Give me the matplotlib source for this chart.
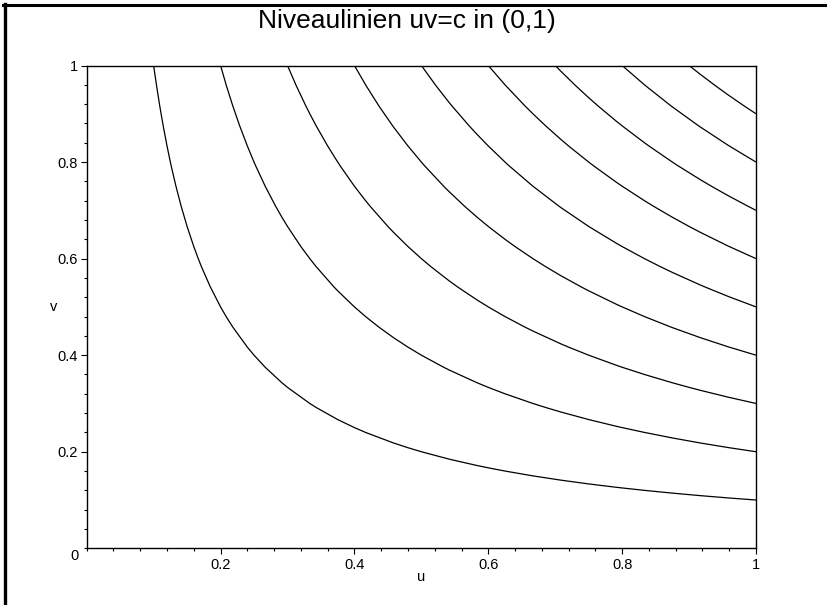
import numpy as np
import matplotlib
matplotlib.use("Agg")
import matplotlib.pyplot as plt
from matplotlib.lines import Line2D
from matplotlib.ticker import MultipleLocator

# Level values c for the curves u*v = c
levels = [0.1, 0.2, 0.3, 0.4, 0.5, 0.6, 0.7, 0.8, 0.9]
major_ticks = [0.2, 0.4, 0.6, 0.8, 1.0]
tick_labels = ["0.2", "0.4", "0.6", "0.8", "1"]
title = "Niveaulinien uv=c in (0,1)"

W, H = 828, 605
fig = plt.figure(figsize=(W / 100, H / 100), dpi=100)
plt.rcParams["font.family"] = ["Liberation Sans", "DejaVu Sans"]

ax = fig.add_axes([86.7 / W, 1 - 548.3 / H, (756 - 86.7) / W, (548.3 - 65.5) / H])

# sampling grid for the contour computation
u = np.linspace(0, 1, 25)
v = np.linspace(0, 1, 25)
U, V = np.meshgrid(u, v)
ax.contour(U, V, U * V, levels=levels, colors="black", linewidths=0.9)

ax.set_xlim(0, 1)
ax.set_ylim(0, 1)
ax.set_xticks(major_ticks)
ax.set_xticklabels(tick_labels)
ax.set_yticks(major_ticks)
ax.set_yticklabels(tick_labels)
ax.xaxis.set_minor_locator(MultipleLocator(0.04))
ax.yaxis.set_minor_locator(MultipleLocator(0.04))
ax.tick_params(axis="both", which="major", direction="out", length=4.5, width=0.8,
               labelsize=10.5, pad=2, colors="black")
ax.tick_params(axis="both", which="minor", direction="out", length=2.2, width=0.8)
ax.tick_params(axis="x", which="major", pad=2.5)
for s in ax.spines.values():
    s.set_linewidth(1.0)

# shared origin label
ax.annotate("0", xy=(0, 0), xycoords="data", xytext=(-12, -7.5),
            textcoords="offset pixels", ha="center", va="center", fontsize=10.5)

ax.set_xlabel("u", fontsize=10.5)
ax.set_ylabel("v", fontsize=10.5, rotation=0, va="center")
ax.xaxis.set_label_coords((421.5 - 86.7) / (756 - 86.7), -(577 - 548.3) / (548.3 - 65.5))
ax.yaxis.set_label_coords(-(86.7 - 54) / (756 - 86.7), (548.3 - 306.7) / (548.3 - 65.5))
ax.xaxis.label.set_va("center")
ax.yaxis.label.set_ha("center")

fig.text(406.5 / W, 1 - 21 / H, title, ha="center", va="center", fontsize=19)

# window frame along the top and left edges
fig.add_artist(Line2D([3.5 / W, 1], [1 - 4.5 / H, 1 - 4.5 / H], color="black", lw=2.2,
                      transform=fig.transFigure))
fig.add_artist(Line2D([4.8 / W, 4.8 / W], [0, 1 - 3.5 / H], color="black", lw=2.4,
                      transform=fig.transFigure))

fig.savefig("out.png", dpi=100)
